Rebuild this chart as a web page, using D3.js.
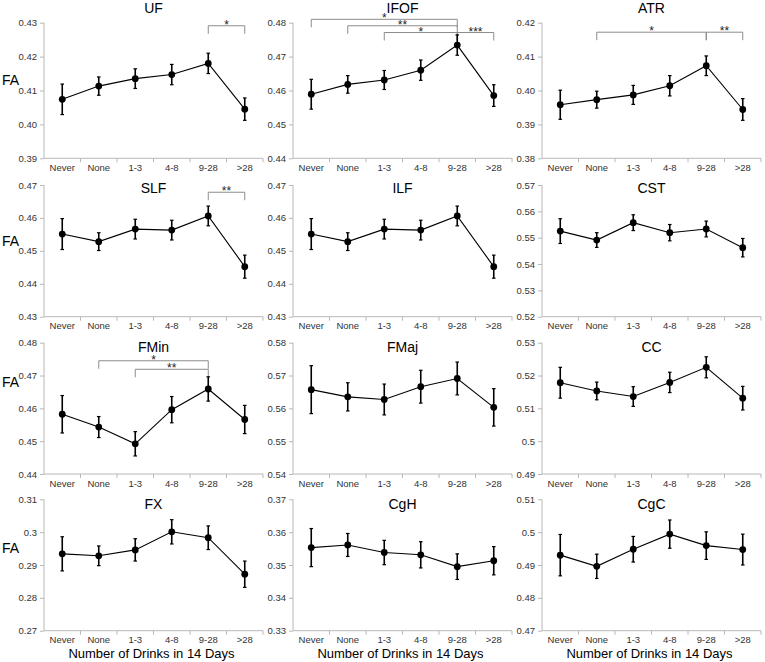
<!DOCTYPE html>
<html><head><meta charset="utf-8">
<script src="https://cdn.jsdelivr.net/npm/d3@7"></script>
<style>body{margin:0;background:#fff} svg{display:block;font-family:"Liberation Sans",Arial,sans-serif}</style>
</head><body><svg id="c" width="765" height="662"></svg>
<script>
const categories = ["Never","None","1-3","4-8","9-28",">28"];
const tracts = ["UF","IFOF","ATR","SLF","ILF","CST","FMin","FMaj","CC","FX","CgH","CgC"];

const meanUF   = [0.4074,0.4113,0.4135,0.4147,0.4180,0.4045];
const errUF    = [0.0045,0.0027,0.0029,0.0030,0.0030,0.0033];
const meanIFOF = [0.4589,0.4618,0.4631,0.4660,0.4734,0.4585];
const errIFOF  = [0.0044,0.0026,0.0028,0.0030,0.0030,0.0032];
const meanATR  = [0.3958,0.3973,0.3987,0.4014,0.4073,0.3944];
const errATR   = [0.0043,0.0025,0.0028,0.0030,0.0029,0.0032];
const meanSLF  = [0.4551,0.4528,0.4566,0.4563,0.4606,0.4452];
const errSLF   = [0.0047,0.0027,0.0030,0.0030,0.0030,0.0035];
const meanILF  = [0.4551,0.4528,0.4566,0.4563,0.4606,0.4452];
const errILF   = [0.0047,0.0027,0.0030,0.0030,0.0030,0.0035];
const meanCST  = [0.5525,0.5491,0.5557,0.5519,0.5533,0.5462];
const errCST   = [0.0047,0.0028,0.0030,0.0031,0.0030,0.0035];
const meanFMin = [0.4582,0.4543,0.4492,0.4596,0.4659,0.4566];
const errFMin  = [0.0057,0.0032,0.0037,0.0040,0.0037,0.0043];
const meanFMaj = [0.5657,0.5635,0.5627,0.5666,0.5691,0.5603];
const errFMaj  = [0.0073,0.0043,0.0047,0.0050,0.0050,0.0057];
const meanCC   = [0.5178,0.5153,0.5136,0.5179,0.5225,0.5131];
const errCC    = [0.0047,0.0027,0.0030,0.0031,0.0032,0.0036];
const meanFX   = [0.2934,0.2928,0.2946,0.3001,0.2983,0.2872];
const errFX    = [0.0052,0.0030,0.0034,0.0037,0.0036,0.0040];
const meanCgH  = [0.3553,0.3561,0.3538,0.3531,0.3495,0.3513];
const errCgH   = [0.0058,0.0035,0.0037,0.0040,0.0039,0.0043];
const meanCgC  = [0.4930,0.4896,0.4948,0.4994,0.4959,0.4947];
const errCgC   = [0.0063,0.0037,0.0039,0.0043,0.0042,0.0047];

const ticksUF   = ["0.39","0.40","0.41","0.42","0.43"];
const ticksIFOF = ["0.44","0.45","0.46","0.47","0.48"];
const ticksATR  = ["0.38","0.39","0.40","0.41","0.42"];
const ticksSLF  = ["0.43","0.44","0.45","0.46","0.47"];
const ticksILF  = ["0.43","0.44","0.45","0.46","0.47"];
const ticksCST  = ["0.52","0.53","0.54","0.55","0.56","0.57"];
const ticksFMin = ["0.44","0.45","0.46","0.47","0.48"];
const ticksFMaj = ["0.54","0.55","0.56","0.57","0.58"];
const ticksCC   = ["0.49","0.5","0.51","0.52","0.53"];
const ticksFX   = ["0.27","0.28","0.29","0.3","0.31"];
const ticksCgH  = ["0.33","0.34","0.35","0.36","0.37"];
const ticksCgC  = ["0.47","0.48","0.49","0.5","0.51"];

// significance brackets
const bracketTract = ["UF","IFOF","IFOF","IFOF","IFOF","ATR","ATR","SLF","FMin","FMin"];
const bracketFrom  = ["9-28","Never","None","1-3","9-28","None","9-28","9-28","None","1-3"];
const bracketTo    = [">28","9-28","9-28","9-28",">28","9-28",">28",">28","9-28","9-28"];
const bracketY     = [0.4291,0.4810,0.4791,0.4771,0.4771,0.4172,0.4172,0.4678,0.4745,0.4719];
const bracketLabel = ["*","*","**","*","***","*","**","**","*","**"];

const xTitle = "Number of Drinks in 14 Days";
const yTitle = "FA";

const means = {UF:meanUF,IFOF:meanIFOF,ATR:meanATR,SLF:meanSLF,ILF:meanILF,CST:meanCST,FMin:meanFMin,FMaj:meanFMaj,CC:meanCC,FX:meanFX,CgH:meanCgH,CgC:meanCgC};
const errs = {UF:errUF,IFOF:errIFOF,ATR:errATR,SLF:errSLF,ILF:errILF,CST:errCST,FMin:errFMin,FMaj:errFMaj,CC:errCC,FX:errFX,CgH:errCgH,CgC:errCgC};
const ticks = {UF:ticksUF,IFOF:ticksIFOF,ATR:ticksATR,SLF:ticksSLF,ILF:ticksILF,CST:ticksCST,FMin:ticksFMin,FMaj:ticksFMaj,CC:ticksCC,FX:ticksFX,CgH:ticksCgH,CgC:ticksCgC};

const colX = [44, 293, 542];
const plotW = 219;
const rowTop = [22.7, 185, 342.7, 499.3];
const rowBot = [158.3, 316.7, 474, 630.7];
const titleY = [13, 193, 352, 509];
const faY = [85, 246, 387, 553];
const axisColor = "#b8b8b8";

const svg = d3.select("#c");
const x = d3.scaleBand().domain(categories).range([0, plotW]);
const bw = x.bandwidth();
const cx = c => x(c) + bw/2;

tracts.forEach((t, i) => {
  const r = Math.floor(i/3), c = i % 3;
  const tv = ticks[t].map(Number);
  const y = d3.scaleLinear().domain([tv[0], tv[tv.length-1]]).range([rowBot[r]-rowTop[r], 0]);
  const g = svg.append("g").attr("transform", `translate(${colX[c]},${rowTop[r]})`);
  const h = rowBot[r]-rowTop[r];

  // y axis
  const yAxis = d3.axisLeft(y).tickValues(tv).tickFormat((d,k)=>ticks[t][k]).tickSize(4).tickPadding(3);
  const ya = g.append("g").call(yAxis);
  ya.select(".domain").attr("stroke", axisColor).attr("d", `M0,0V${h}`);
  ya.selectAll(".tick line").attr("stroke", axisColor);
  ya.selectAll(".tick text").attr("fill", "#333").style("font-size", "9.5px").style("font-family", "Liberation Sans, Arial, sans-serif");

  // x axis
  const xa = g.append("g").attr("transform", `translate(0,${h})`);
  xa.append("line").attr("x1",0).attr("x2",plotW).attr("stroke",axisColor);
  xa.selectAll("line.bt").data(categories.slice(1).concat(["__end"])).enter().append("line")
    .attr("class","bt")
    .attr("x1", (d,k)=> (k+1)*bw).attr("x2",(d,k)=>(k+1)*bw)
    .attr("y1",0).attr("y2",4).attr("stroke",axisColor);
  xa.selectAll("text").data(categories).enter().append("text")
    .attr("x", d=>cx(d)).attr("y", 12.5).attr("text-anchor","middle")
    .attr("fill","#333").style("font-size","9.5px").text(d=>d);

  // title
  svg.append("text").attr("x", colX[c]+plotW/2).attr("y", titleY[r]).attr("text-anchor","middle")
    .style("font-size","14px").attr("fill","#000").text(t);

  // brackets
  bracketTract.forEach((bt, k) => {
    if (bt !== t) return;
    const x1 = cx(bracketFrom[k]), x2 = cx(bracketTo[k]), by = y(bracketY[k]);
    g.append("path").attr("d", `M${x1},${by+8}V${by}H${x2}V${by+8}`)
      .attr("fill","none").attr("stroke","#8c8c8c").attr("stroke-width",1);
    g.append("text").attr("x",(x1+x2)/2).attr("y",by+3).attr("text-anchor","middle")
      .style("font-size","12px").attr("fill","#222").text(bracketLabel[k]);
  });

  // line
  const m = means[t], e = errs[t];
  const pts = categories.map((cat,k)=>({cat, v:m[k], e:e[k]}));
  g.append("path").datum(pts)
    .attr("d", d3.line().x(d=>cx(d.cat)).y(d=>y(d.v)))
    .attr("fill","none").attr("stroke","#000").attr("stroke-width",1.1);
  // error bars
  const eb = g.selectAll("g.eb").data(pts).enter().append("g").attr("class","eb");
  eb.append("line").attr("x1",d=>cx(d.cat)).attr("x2",d=>cx(d.cat))
    .attr("y1",d=>y(d.v+d.e)).attr("y2",d=>y(d.v-d.e)).attr("stroke","#000").attr("stroke-width",1.6);
  eb.append("line").attr("x1",d=>cx(d.cat)-1.8).attr("x2",d=>cx(d.cat)+1.8)
    .attr("y1",d=>y(d.v+d.e)).attr("y2",d=>y(d.v+d.e)).attr("stroke","#000").attr("stroke-width",1.2);
  eb.append("line").attr("x1",d=>cx(d.cat)-1.8).attr("x2",d=>cx(d.cat)+1.8)
    .attr("y1",d=>y(d.v-d.e)).attr("y2",d=>y(d.v-d.e)).attr("stroke","#000").attr("stroke-width",1.2);
  eb.append("circle").attr("cx",d=>cx(d.cat)).attr("cy",d=>y(d.v)).attr("r",3.4).attr("fill","#000");

  // FA label (first column)
  if (c === 0) {
    svg.append("text").attr("x",2).attr("y",faY[r]).style("font-size","14px").attr("fill","#000").text(yTitle);
  }
  // x title (last row)
  if (r === 3) {
    svg.append("text").attr("x", colX[c]+plotW/2 - 2).attr("y", 658).attr("text-anchor","middle")
      .style("font-size","13px").attr("fill","#000").text(xTitle);
  }
});
</script></body></html>
